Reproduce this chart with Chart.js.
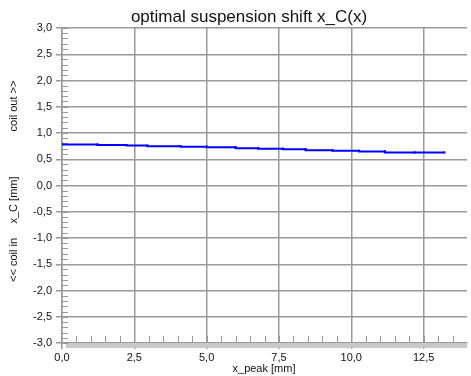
<!DOCTYPE html>
<html>
<head>
    <script src="https://cdn.jsdelivr.net/npm/chart.js"></script>
    <style>
        body { margin: 0; background: #fff; }
    </style>
</head>
<body>
    <canvas id="myChart" width="471" height="376"></canvas>

    <script>
        // valeurs
        var xPeak = [0, 1.23, 2.23, 2.95, 4.1, 5.0, 6.0, 6.78, 7.64, 8.42, 9.35, 10.27, 11.16, 12.19, 13.22];
        var xC = [0.79, 0.78, 0.77, 0.76, 0.75, 0.74, 0.73, 0.71, 0.70, 0.69, 0.67, 0.66, 0.65, 0.63, 0.63];
        var yTitles = ['<< coil in', 'x_C [mm]', 'coil out >>'];
        var chartTitle = 'optimal suspension shift x_C(x)';
        var xLabel = 'x_peak [mm]';

        var font = '"Liberation Sans", Arial, sans-serif';
        function comma(v) { return v.toFixed(1).replace('.', ','); }

        // ticks mineurs, bande grise, titres
        var decor = {
            id: 'decor',
            beforeDatasetsDraw: function(chart) {
                var c = chart.ctx, a = chart.chartArea;
                var xs = chart.scales.x, ys = chart.scales.y;
                c.save();
                c.fillStyle = '#c8c8c8';
                c.fillRect(66, a.bottom, a.right - 66, 5);
                c.strokeStyle = '#999';
                c.lineWidth = 1;
                c.beginPath();
                for (var v = -3; v <= 3.001; v += 0.1) {
                    var py = Math.round(ys.getPixelForValue(v)) + 0.5;
                    c.moveTo(a.left, py); c.lineTo(a.left + 6, py);
                }
                for (var u = 0.5; u < 14; u += 0.5) {
                    var px = Math.round(xs.getPixelForValue(u)) + 0.5;
                    c.moveTo(px, a.bottom); c.lineTo(px, a.bottom - 7);
                }
                c.stroke();
                c.restore();
            },
            afterDraw: function(chart) {
                var c = chart.ctx;
                c.save();
                c.fillStyle = '#111';
                c.textAlign = 'center';
                c.textBaseline = 'middle';
                c.font = '17px ' + font;
                c.fillText(chartTitle, 249, 17);
                c.font = '11px ' + font;
                c.fillText(xLabel, 264, 369);
                var ys = [260, 200, 106];
                for (var i = 0; i < yTitles.length; i++) {
                    c.save();
                    c.translate(14, ys[i]);
                    c.rotate(-Math.PI / 2);
                    c.fillText(yTitles[i], 0, 0);
                    c.restore();
                }
                c.restore();
            }
        };

        var ctx = document.getElementById('myChart').getContext('2d');
        var chart = new Chart(ctx, {
            type: 'line',
            data: {
                datasets: [{
                    data: xPeak.map(function(x, i) { return { x: x, y: xC[i] }; }),
                    borderColor: '#0000ff',
                    backgroundColor: '#0000ff',
                    borderWidth: 2,
                    stepped: 'after',
                    pointStyle: 'rect',
                    pointRadius: 1.5,
                    pointBorderWidth: 0
                }]
            },
            options: {
                responsive: false,
                animation: false,
                layout: { padding: { top: 28, right: 0, left: 0, bottom: 0 } },
                plugins: { legend: { display: false }, tooltip: { enabled: false } },
                scales: {
                    x: {
                        type: 'linear',
                        min: 0,
                        max: 14,
                        afterBuildTicks: function(s) {
                            s.ticks = [0, 2.5, 5, 7.5, 10, 12.5].map(function(v) { return { value: v }; });
                        },
                        afterFit: function(s) { s.height = 33; },
                        ticks: {
                            callback: function(v) { return comma(v); },
                            color: '#111',
                            font: { family: font, size: 11 },
                            padding: 2,
                            maxRotation: 0
                        },
                        grid: { color: '#999', lineWidth: 1.5, tickLength: 6 },
                        border: { color: '#999', width: 1.5 }
                    },
                    y: {
                        min: -3,
                        max: 3,
                        afterBuildTicks: function(s) {
                            var t = [];
                            for (var k = -6; k <= 6; k++) t.push({ value: k / 2 });
                            s.ticks = t;
                        },
                        afterFit: function(s) { s.width = 62; },
                        ticks: {
                            callback: function(v) { return comma(v); },
                            color: '#111',
                            font: { family: font, size: 11 },
                            padding: 4
                        },
                        grid: { color: '#999', lineWidth: 1.5, tickLength: 6 },
                        border: { color: '#999', width: 1.5 }
                    }
                }
            },
            plugins: [decor]
        });
    </script>
</body>
</html>
